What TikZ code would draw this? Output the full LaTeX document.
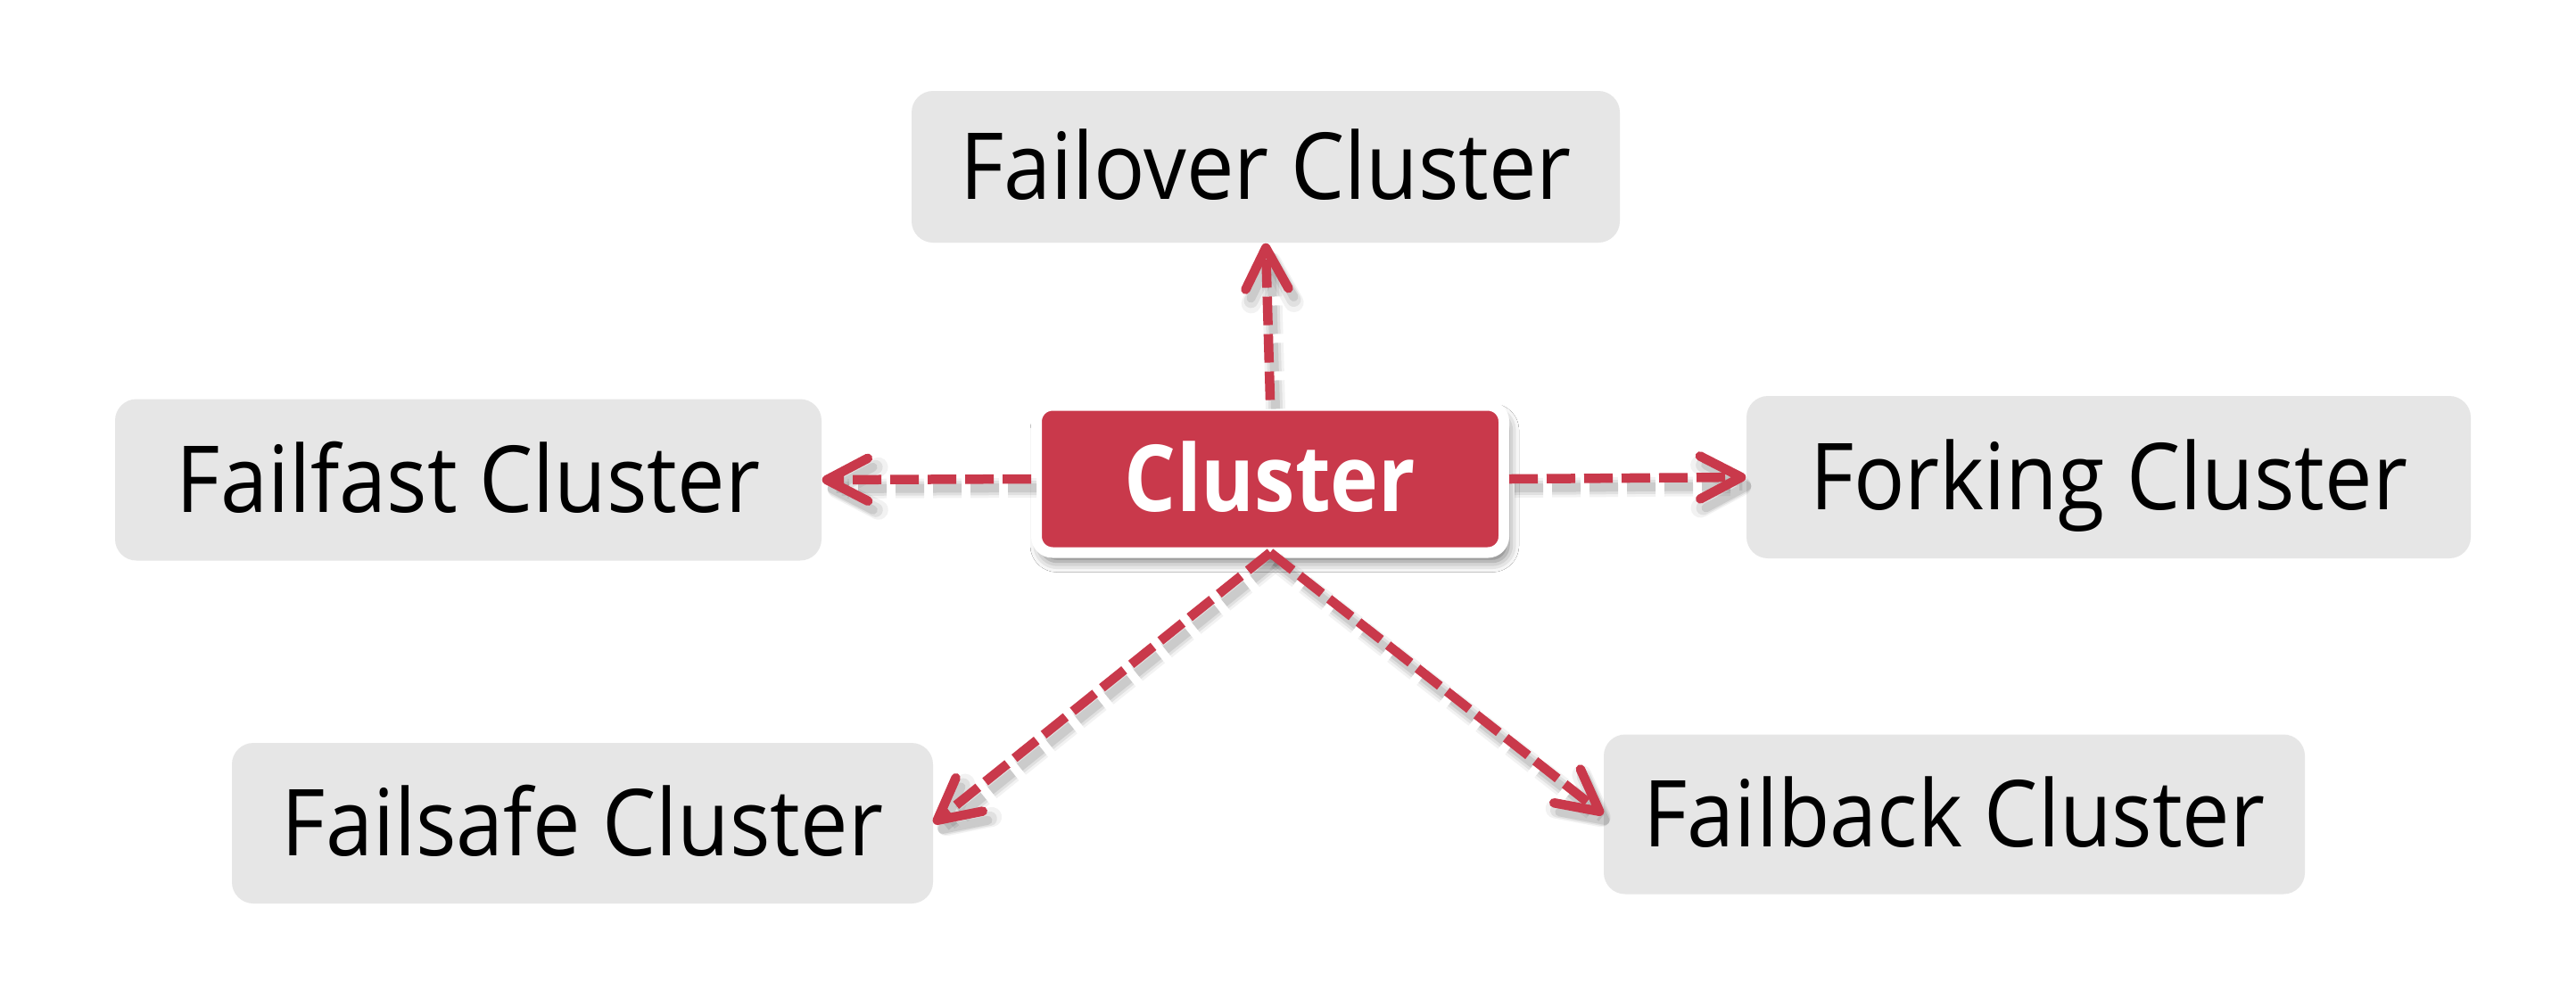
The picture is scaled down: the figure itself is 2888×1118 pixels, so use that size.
\documentclass[tikz,border=0pt]{standalone}
\usepackage{fontspec}
\setmainfont{Open Sans}[FakeStretch=0.92]
\newfontfamily\clfont{Open Sans}[FakeStretch=0.88]
\usetikzlibrary{arrows.meta,shadows.blur}
\definecolor{cred}{HTML}{C9394B}
\definecolor{cgray}{HTML}{E6E6E6}
\begin{document}
\begin{tikzpicture}[x=0.1mm,y=-0.1mm,
  box/.style={fill=cgray, rounded corners=2.4mm, inner sep=0pt, text height=7.3mm, text depth=0pt,
    font=\fontsize{29.5}{35}\selectfont},
  core/.style={fill=cred, draw=white, line width=1.2mm, rounded corners=1.8mm, text=white, inner sep=0pt,
    minimum width=52.4mm, minimum height=16.5mm, text height=7.3mm, text depth=0pt,
    font=\clfont\bfseries\fontsize{29.5}{35}\selectfont,
    blur shadow={shadow xshift=0.5mm, shadow yshift=-1.0mm, shadow blur radius=1.2mm, shadow opacity=55}},
  tipa/.tip={Straight Barb[length=4.6mm, width=4.8mm, line cap=round, line join=round]},
  arr/.style={draw=cred, line width=1.05mm, dash pattern=on 3.2mm off 1.0mm, -tipa},
  shd/.style={draw=black, line width=#1, dash pattern=on 3.2mm off 1.0mm, -tipa,
    transform canvas={shift={(0.6mm,-1.0mm)}}},
  shd1/.style={shd=2.2mm, opacity=0.05},
  shd2/.style={shd=1.6mm, opacity=0.07},
  shd3/.style={shd=1.0mm, opacity=0.09}
]
\useasboundingbox (0,0) rectangle (2888,1118);
\fill[white] (0,0) rectangle (2888,1118);

\node[box, minimum width=79.4mm, minimum height=17.0mm] (failover) at (1419,187) {Failover Cluster};
\node[box, minimum width=79.2mm, minimum height=18.1mm] (failfast) at (525,538) {Failfast Cluster};
\node[box, minimum width=81.2mm, minimum height=18.2mm] (forking) at (2364,535) {Forking Cluster};
\node[box, minimum width=78.6mm, minimum height=18.0mm] (failsafe) at (653,923) {Failsafe Cluster};
\node[box, minimum width=78.6mm, minimum height=17.9mm] (failback) at (2191,913) {Failback Cluster};

\node[core] (cl) at (1424,537) {Cluster};
\coordinate (apex) at ([yshift=0.6mm]cl.south);

\foreach \s in {shd1,shd2,shd3}{
  \draw[\s] (cl.north) -- (failover.south);
  \draw[\s] (cl.west) -- (failfast.east);
  \draw[\s] (cl.east) -- (forking.west);
  \draw[\s] (apex) -- (failsafe.east);
  \draw[\s] (apex) -- (failback.west);
}

\draw[arr] (cl.north) -- (failover.south);
\draw[arr] (cl.west) -- (failfast.east);
\draw[arr] (cl.east) -- (forking.west);
\draw[arr] (apex) -- (failsafe.east);
\draw[arr] (apex) -- (failback.west);
\end{tikzpicture}
\end{document}
